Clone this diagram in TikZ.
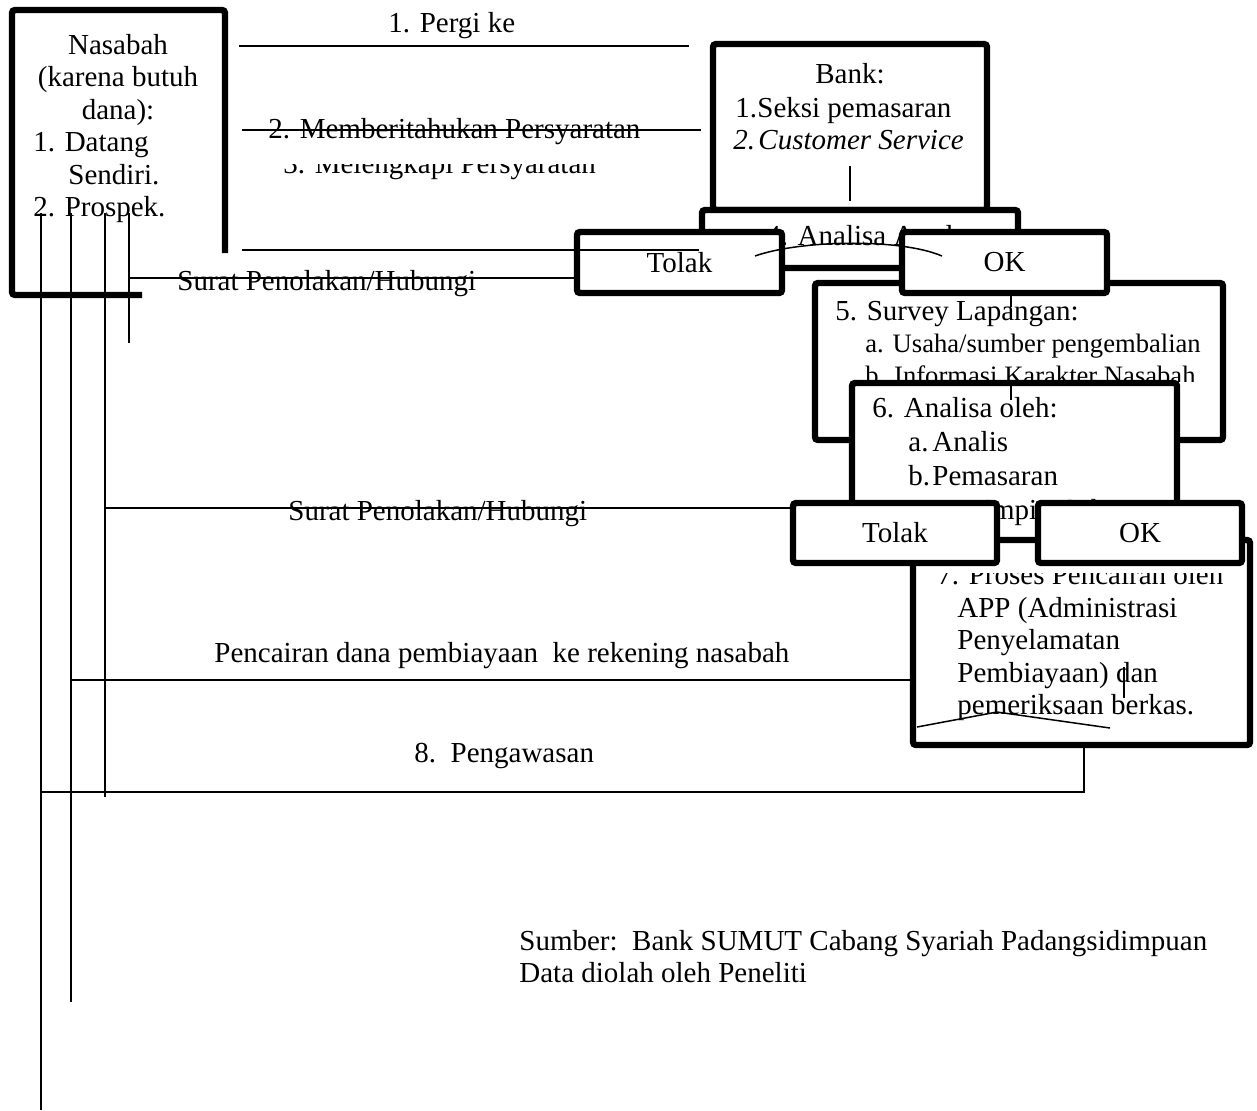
\documentclass[tikz,border=0pt]{standalone}
\usepackage{fontspec}
\setmainfont{Liberation Serif}
\usepackage{tikz}
\usetikzlibrary{positioning}
\newcommand{\besar}{\fontsize{14.5}{16}\selectfont}
\newcommand{\kecil}{\fontsize{13.3}{15}\selectfont}
\tikzset{
  kotak/.style = {
    rectangle,
    draw = black,
    fill = white,
    line width = 3.2pt,
    rounded corners = 1.5pt,
    inner sep = 0pt,
    font = \besar
  },
  ukuran/.style 2 args = {
    minimum width = #1*0.5pt,
    minimum height = #2*0.5pt
  },
  garis/.style = {
    -,
    line width = 0.75pt
  },
  teks/.style = {
    inner sep = 0pt,
    anchor = base west,
    font = \besar
  },
  tengah/.style = {
    inner sep = 0pt,
    anchor = base,
    font = \besar
  },
  kecil/.style = {
    teks,
    font = \kecil
  },
}

\begin{document}
\begin{tikzpicture}[x=0.5pt, y=-0.5pt]
  \useasboundingbox (0,0) rectangle (1257,1110);
  % nasabah
  \draw[line width = 3.2pt, rounded corners = 1.5pt]
    (225,253) -- (225,10) -- (12,10) -- (12,295) -- (142,295);
  \node[tengah] (nasA) at (118,54) {Nasabah};
  \node[tengah] (nasB) at (118,86.5) {(karena butuh};
  \node[tengah] (nasC) at (118,119) {dana):};
  \node[teks] (nasD) at (33,151.5) {1. Datang};
  \node[teks] (nasE) at (68,184) {Sendiri.};
  \node[teks] (nasF) at (33,216.5) {2. Prospek.};
  \coordinate (turunA) at (41,213);
  \coordinate (turunB) at (71,213);
  \coordinate (turunC) at (105,213);
  \coordinate (turunD) at (129,213);
  \draw[garis, line width = 1.2pt] (turunA) -- ++(0,897);
  \draw[garis] (turunB) -- ++(0,789);
  \draw[garis] (turunC) -- ++(0,584);
  \draw[garis] (turunD) -- ++(0,130);

  % ke bank
  \node[teks] (pergi) at (388,32) {1. Pergi ke};
  \coordinate (pergiA) at (239,46);
  \coordinate (pergiB) at (689,46);
  \draw[garis] (pergiA) -- (pergiB);
  \node[teks] (beritahu) at (268,138) {2. Memberitahukan Persyaratan};
  \coordinate (syaratA) at (242,130);
  \coordinate (syaratB) at (701,130);
  \draw[garis] (syaratA) -- (syaratB);
  \begin{scope}
    \clip (240,164) rectangle (700,190);
    \node[teks] (lengkap) at (283,173) {3. Melengkapi Persyaratan};
  \end{scope}

  \node[kotak, ukuran = {274}{166}] (bank) at (850,127) {};
  \node[tengah] (bankA) at (850,83) {Bank:};
  \node[teks] (bankB) at (735,117) {\makebox[11pt][l]{1.}Seksi pemasaran};
  \node[teks, font = \besar\itshape] (bankC) at (733,149)
    {\makebox[12.5pt][l]{2.}Customer Service};
  \draw[garis] ([yshift=6pt]bank.south) -- ++(0,-35);

  \node[kotak, ukuran = {316}{58}] (analisa) at (860,239) {};
  \node[tengah] (analisaT) at (860,245) {4. Analisa Awal};

  \node[kotak, ukuran = {408}{157}] (survei) at (1019,361.5) {};
  \node[teks] (surveiA) at (835,320) {5. Survey Lapangan:};
  \begin{scope}
    \clip (815,283) rectangle (1223,381);
    \node[kecil] (surveiB) at (865,352) {a. Usaha/sumber pengembalian};
    \node[kecil] (surveiC) at (865,384) {b. Informasi Karakter Nasabah};
  \end{scope}

  \node[kotak, ukuran = {205}{61}] (tolakA) at (679.5,262.5) {Tolak};
  \node[kotak, ukuran = {205}{61}] (okA) at (1004.5,262.5) {OK};
  \coordinate (awalKiri) at (242,250);
  \draw[garis] (awalKiri) -- (awalKiri -| analisa.west);
  \coordinate (suratA) at (129,278);
  \draw[garis] (suratA) -- (suratA -| tolakA.west);
  \node[teks] (suratTA) at (177,290) {Surat Penolakan/Hubungi};
  \coordinate (tolakTitik) at (755,256);
  \coordinate (okTitik) at (942,256);
  \draw[garis] (tolakTitik) .. controls (800,240) and (900,238) .. (okTitik);
  \draw[garis] ([xshift=3.25pt]okA.south) -- ++(0,11);

  % analisa kedua
  \node[kotak, ukuran = {325}{159}] (analisaB) at (1014.5,462.5) {};
  \node[teks] (analisaBA) at (872,417) {6. Analisa oleh:};
  \node[teks] (analisaBB) at (908,451) {\makebox[12pt][l]{a.}Analis};
  \node[teks] (analisaBC) at (908,485) {\makebox[12pt][l]{b.}Pemasaran};
  \node[teks] (analisaBD) at (908,519) {\makebox[12pt][l]{c.}Pemimpin Cabang};
  \draw[garis] ([xshift=-1.75pt]analisaB.north) -- ++(0,20);

  \node[kotak, ukuran = {337}{205}] (proses) at (1081.5,642.5) {};
  \begin{scope}
    \clip (913,573) rectangle (1250,745);
    \node[teks] (prosesA) at (937,584) {7. Proses Pencairan oleh};
    \node[teks] (prosesB) at (957,617) {APP (Administrasi};
    \node[teks] (prosesC) at (957,649) {Penyelamatan};
    \node[teks] (prosesD) at (957,682) {Pembiayaan) dan};
    \node[teks] (prosesE) at (957,714) {pemeriksaan berkas.};
  \end{scope}
  \coordinate (prosesKiri) at (917,727);
  \coordinate (prosesPuncak) at (997,712);
  \coordinate (prosesKanan) at (1110,728);
  \draw[garis] (prosesKiri) -- (prosesPuncak) -- (prosesKanan);
  \coordinate (prosesAtas) at (1124,667);
  \draw[garis] (prosesAtas) -- ++(0,31);

  \node[kotak, ukuran = {204}{60}] (tolakB) at (895,533) {Tolak};
  \node[kotak, ukuran = {204}{60}] (okB) at (1140,533) {OK};

  % kembali ke nasabah
  \coordinate (suratB) at (105,508);
  \draw[garis] (suratB) -- (suratB -| tolakB.west);
  \node[teks] (suratTB) at (288,520) {Surat Penolakan/Hubungi};
  \coordinate (cair) at (71,680);
  \draw[garis] (cair) -- (cair -| proses.west);
  \node[teks] (cairT) at (214,662) {Pencairan dana pembiayaan\ \ ke rekening nasabah};
  \coordinate (awas) at (41,792);
  \draw[garis] (awas) -| ([xshift=1.25pt]proses.south);
  \node[teks] (awasT) at (414,762) {8.\ \ Pengawasan};

  \node[teks] (sumber) at (519,950) {Sumber:\ \ Bank SUMUT Cabang Syariah Padangsidimpuan};
  \node[teks] (data) at (519,982) {Data diolah oleh Peneliti};
\end{tikzpicture}
\end{document}
